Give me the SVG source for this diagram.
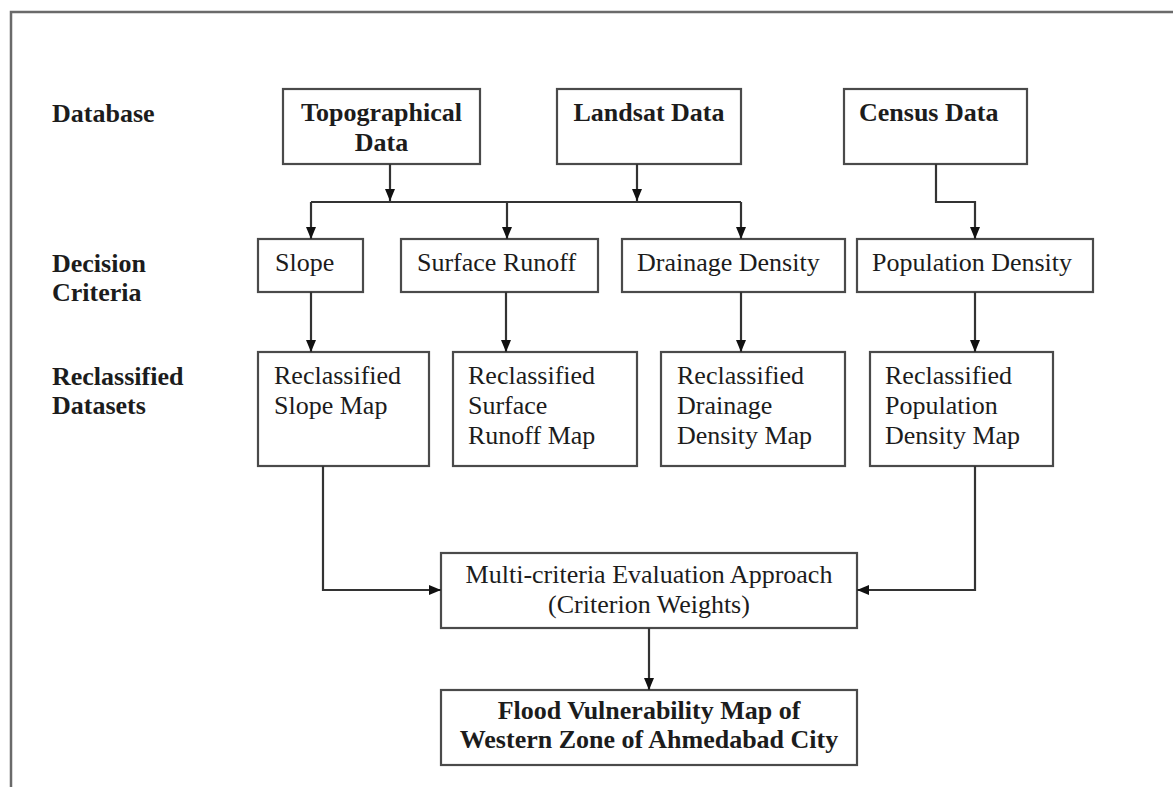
<svg xmlns="http://www.w3.org/2000/svg" width="1173" height="787" viewBox="0 0 1173 787">
<defs>
<style>
.box{fill:#fff;stroke:#4a4a4a;stroke-width:2.2}
.t{font-family:"Liberation Serif","Times New Roman",serif;font-size:26px;fill:#1c1c1c}
.b{font-weight:bold}
.c{text-anchor:middle}
.ln{fill:none;stroke:#333;stroke-width:2.2}
</style>
<marker id="ah" markerUnits="userSpaceOnUse" markerWidth="12" markerHeight="12" viewBox="0 0 12 12" refX="12" refY="6" orient="auto">
<path d="M0,1 L12,6 L0,11 Z" fill="#111"/>
</marker>
</defs>
<rect width="1173" height="787" fill="#fff"/>
<path d="M11,787 V12 H1173" fill="none" stroke="#6a6a6a" stroke-width="2.5"/>

<g id="labels">
<text class="t b" x="52" y="122">Database</text>
<text class="t b" x="52" y="272">Decision</text>
<text class="t b" x="52" y="301">Criteria</text>
<text class="t b" x="52" y="385">Reclassified</text>
<text class="t b" x="52" y="414">Datasets</text>
</g>

<g id="topo">
<rect class="box" x="283" y="89" width="197" height="75"/>
<text class="t b c" x="381.5" y="121">Topographical</text>
<text class="t b c" x="381.5" y="151">Data</text>
</g>
<g id="landsat">
<rect class="box" x="557" y="89" width="184" height="75"/>
<text class="t b c" x="649" y="121">Landsat Data</text>
</g>
<g id="census">
<rect class="box" x="844" y="89" width="183" height="75"/>
<text class="t b" x="859" y="121">Census Data</text>
</g>

<g id="slope">
<rect class="box" x="258" y="239" width="105" height="53"/>
<text class="t" x="275" y="271">Slope</text>
</g>
<g id="runoff">
<rect class="box" x="401" y="239" width="197" height="53"/>
<text class="t" x="417" y="271">Surface Runoff</text>
</g>
<g id="drainage">
<rect class="box" x="622" y="239" width="223" height="53"/>
<text class="t" x="637" y="271">Drainage Density</text>
</g>
<g id="population">
<rect class="box" x="857" y="239" width="236" height="53"/>
<text class="t" x="872" y="271">Population Density</text>
</g>

<g id="r_slope">
<rect class="box" x="258" y="352" width="171" height="114"/>
<text class="t" x="274" y="384">Reclassified</text>
<text class="t" x="274" y="414">Slope Map</text>
</g>
<g id="r_runoff">
<rect class="box" x="453" y="352" width="184" height="114"/>
<text class="t" x="468" y="384">Reclassified</text>
<text class="t" x="468" y="414">Surface</text>
<text class="t" x="468" y="444">Runoff Map</text>
</g>
<g id="r_drainage">
<rect class="box" x="661" y="352" width="184" height="114"/>
<text class="t" x="677" y="384">Reclassified</text>
<text class="t" x="677" y="414">Drainage</text>
<text class="t" x="677" y="444">Density Map</text>
</g>
<g id="r_population">
<rect class="box" x="870" y="352" width="183" height="114"/>
<text class="t" x="885" y="384">Reclassified</text>
<text class="t" x="885" y="414">Population</text>
<text class="t" x="885" y="444">Density Map</text>
</g>

<g id="mce">
<rect class="box" x="441" y="553" width="416" height="75"/>
<text class="t c" x="649" y="583">Multi-criteria Evaluation Approach</text>
<text class="t c" x="649" y="613">(Criterion Weights)</text>
</g>
<g id="flood">
<rect class="box" x="441" y="690" width="416" height="75"/>
<text class="t b c" x="649" y="719">Flood Vulnerability Map of</text>
<text class="t b c" x="649" y="748">Western Zone of Ahmedabad City</text>
</g>

<g id="connectors">
<path class="ln" d="M390,164 V201" marker-end="url(#ah)"/>
<path class="ln" d="M637,164 V201" marker-end="url(#ah)"/>
<path class="ln" d="M311,202 H741"/>
<path class="ln" d="M311,202 V239" marker-end="url(#ah)"/>
<path class="ln" d="M507,202 V239" marker-end="url(#ah)"/>
<path class="ln" d="M741,202 V239" marker-end="url(#ah)"/>
<path class="ln" d="M936,164 V202 H975 V239" marker-end="url(#ah)"/>
<path class="ln" d="M311,292 V352" marker-end="url(#ah)"/>
<path class="ln" d="M506,292 V352" marker-end="url(#ah)"/>
<path class="ln" d="M741,292 V352" marker-end="url(#ah)"/>
<path class="ln" d="M975,292 V352" marker-end="url(#ah)"/>
<path class="ln" d="M323,466 V590 H441" marker-end="url(#ah)"/>
<path class="ln" d="M975,466 V590 H857" marker-end="url(#ah)"/>
<path class="ln" d="M649,628 V690" marker-end="url(#ah)"/>
</g>
</svg>
